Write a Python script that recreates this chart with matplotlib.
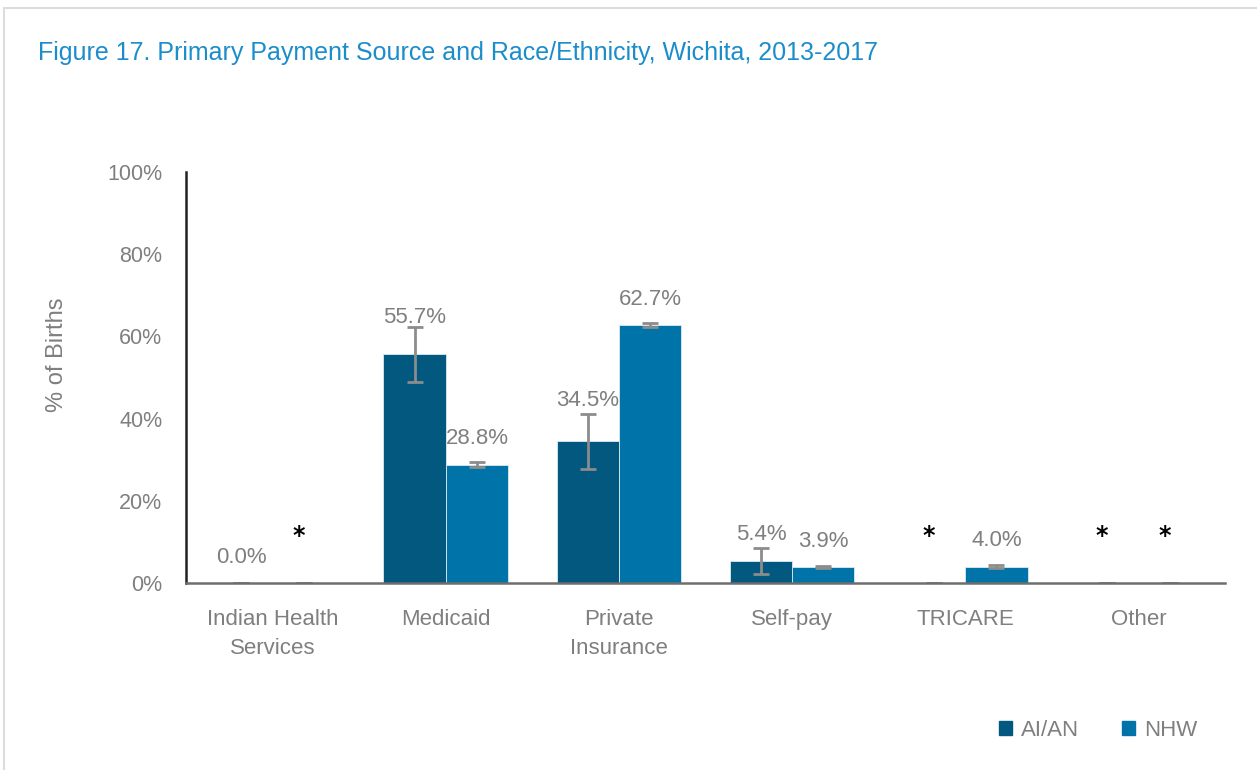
import numpy as np
import matplotlib
matplotlib.use("Agg")
import matplotlib.pyplot as plt
from matplotlib.patches import Patch, Rectangle

plt.rcParams["font.family"] = ["Liberation Sans Narrow", "Liberation Sans", "DejaVu Sans"]

categories = ["Indian Health\nServices", "Medicaid", "Private\nInsurance", "Self-pay", "TRICARE", "Other"]
aian = [0.0, 55.7, 34.5, 5.4, 0.0, 0.0]
nhw = [0.0, 28.8, 62.7, 3.9, 4.0, 0.0]
aian_lo = [0.0, 48.9, 27.8, 2.2, 0.0, 0.0]
aian_hi = [0.0, 62.4, 41.0, 8.6, 0.0, 0.0]
nhw_lo = [0.0, 28.2, 62.2, 3.6, 3.7, 0.0]
nhw_hi = [0.0, 29.4, 63.2, 4.2, 4.3, 0.0]
# suppressed values shown as "*"
aian_star = [False, False, False, False, True, True]
nhw_star = [True, False, False, False, False, True]
aian_shown = [True, True, True, True, False, False]
nhw_shown = [False, True, True, True, True, False]

C_AIAN = "#02587F"
C_NHW = "#0073A9"
GRAY = "#7F7F7F"

fig = plt.figure(figsize=(12.57, 7.70), dpi=100)
fig.patches.append(Rectangle((4 / 1257, -1), 2, 2 - 8 / 770, transform=fig.transFigure,
                             fill=False, edgecolor="#DDDDDD", linewidth=1.5))
ax = fig.add_axes([0.148, 0.2429, 0.8266, 0.5337])

x = np.arange(len(categories))
w = 0.36
ax.bar(x - w / 2, aian, w, color=C_AIAN, edgecolor="#DDEAF2", linewidth=0.6, label="AI/AN")
ax.bar(x + w / 2, nhw, w, color=C_NHW, edgecolor="#DDEAF2", linewidth=0.6, label="NHW")

a = np.array(aian); n = np.array(nhw)
ax.errorbar(x - w / 2, a, yerr=[a - np.array(aian_lo), np.array(aian_hi) - a], fmt="none",
            ecolor="#8C8C8C", elinewidth=2, capsize=6, capthick=2)
ax.errorbar(x + w / 2, n, yerr=[n - np.array(nhw_lo), np.array(nhw_hi) - n], fmt="none",
            ecolor="#8C8C8C", elinewidth=2, capsize=6, capthick=2)

nudge = {(0, 1): 2.7, (0, 2): 3.6}
for i in range(len(categories)):
    for s, (vals, shown, star) in enumerate([(aian, aian_shown, aian_star), (nhw, nhw_shown, nhw_star)]):
        xc = x[i] - w / 2 if s == 0 else x[i] + w / 2
        if shown[i]:
            ax.text(xc, vals[i] + 6.3 + nudge.get((s, i), 0), f"{vals[i]:.1f}%", ha="center", va="center",
                    fontsize=16, color=GRAY)
        if star[i]:
            ax.text(xc - 0.03, 11.5, "*", ha="center", va="center", fontsize=17,
                    fontweight="bold", color="black", family="DejaVu Sans")

ax.set_xlim(-0.5, len(categories) - 0.5)
ax.set_ylim(0, 100)
ax.set_yticks(np.arange(0, 101, 20))
ax.set_yticklabels([f"{v}%" for v in range(0, 101, 20)])
ax.set_xticks(x)
ax.set_xticklabels(categories, linespacing=1.45)
ax.tick_params(axis="both", length=0, labelsize=15.5, labelcolor=GRAY)
ax.tick_params(axis="x", pad=19, labelsize=16)
ax.tick_params(axis="y", pad=17)
for sp in ["top", "right"]:
    ax.spines[sp].set_visible(False)
ax.spines["left"].set_color("#222222")
ax.spines["left"].set_linewidth(1.8)
ax.spines["bottom"].set_color("#6E6E6E")
ax.spines["bottom"].set_linewidth(1.8)

fig.text(57 / 1257, 1 - 355 / 770, "% of Births", rotation=90, ha="center", va="center",
         fontsize=17, color=GRAY)
fig.text(38 / 1257, 1 - 53 / 770, "Figure 17. Primary Payment Source and Race/Ethnicity, Wichita, 2013-2017",
         ha="left", va="center", fontsize=18, color="#1C8DCB")

handles = [Patch(color=C_AIAN), Patch(color=C_NHW)]
fig.legend(handles, ["AI/AN", "NHW"], loc="center", bbox_to_anchor=(1098 / 1257, 1 - 730 / 770),
           ncol=2, frameon=False, fontsize=16, labelcolor=GRAY, handlelength=0.6, handleheight=0.6,
           handletextpad=0.4, columnspacing=1.9)

fig.savefig("out.png", dpi=100)
